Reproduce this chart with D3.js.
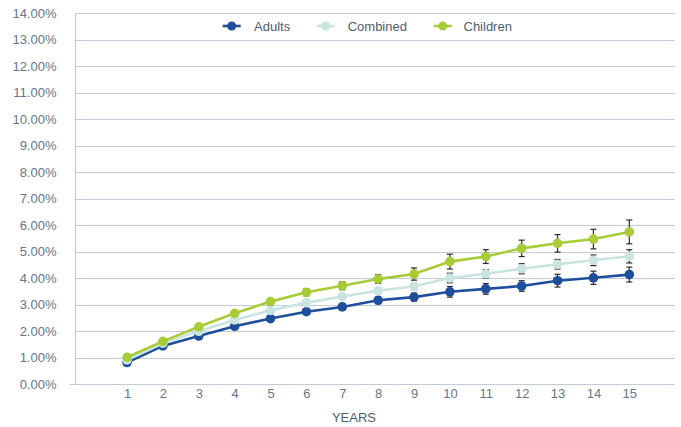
<!DOCTYPE html>
<html>
<head>
<meta charset="utf-8">
<script src="https://cdn.jsdelivr.net/npm/d3@7"></script>
<style>
  html, body { margin: 0; padding: 0; background: #ffffff; }
  svg { display: block; font-family: "Liberation Sans", Arial, Helvetica, sans-serif; }
</style>
</head>
<body>
<svg id="chart" width="681" height="427"></svg>
<script>
const years = [1,2,3,4,5,6,7,8,9,10,11,12,13,14,15];
const yTicks = [0,1,2,3,4,5,6,7,8,9,10,11,12,13,14];
const adults   = [0.82,1.45,1.82,2.19,2.48,2.74,2.92,3.17,3.29,3.49,3.60,3.71,3.91,4.02,4.14];
const combined = [0.92,1.55,2.00,2.43,2.79,3.08,3.31,3.53,3.70,4.01,4.17,4.36,4.53,4.68,4.83];
const children = [1.02,1.62,2.17,2.68,3.12,3.47,3.72,3.97,4.16,4.63,4.82,5.13,5.32,5.48,5.75];
const adultsErr   = [0.04,0.06,0.08,0.09,0.10,0.11,0.12,0.13,0.15,0.20,0.20,0.20,0.24,0.25,0.28];
const combinedErr = [0.03,0.05,0.06,0.07,0.08,0.09,0.10,0.11,0.13,0.18,0.16,0.19,0.18,0.20,0.25];
const childrenErr = [0.04,0.06,0.08,0.10,0.11,0.13,0.15,0.16,0.23,0.28,0.26,0.31,0.33,0.37,0.45];
const seriesNames = ["Adults","Combined","Children"];
const seriesColors = ["#1f4f9a","#c9e4e1","#a8cb38"];
const xTitle = "YEARS";

const series = [
  {name: seriesNames[0], color: seriesColors[0], values: adults, err: adultsErr},
  {name: seriesNames[1], color: seriesColors[1], values: combined, err: combinedErr},
  {name: seriesNames[2], color: seriesColors[2], values: children, err: childrenErr}
];

const svg = d3.select("#chart");
const plotLeft = 75.5, plotRight = 675;
const x = d3.scaleLinear().domain([1,15]).range([127, 629.3]);
const y = d3.scaleLinear().domain([0,14]).range([384.3, 13.3]);

const textColor = "#66768a";
const gridColor = "#c6c9d8";

// gridlines (baseline extends slightly left of the axis)
svg.append("g").selectAll("line").data(yTicks).join("line")
  .attr("x1", d => d === 0 ? plotLeft - 6 : plotLeft).attr("x2", plotRight)
  .attr("y1", d => Math.round(y(d)) + 0.5).attr("y2", d => Math.round(y(d)) + 0.5)
  .attr("stroke", gridColor).attr("stroke-width", 1.2);

// y-axis line
svg.append("line")
  .attr("x1", plotLeft).attr("x2", plotLeft)
  .attr("y1", y(14)).attr("y2", y(0))
  .attr("stroke", gridColor).attr("stroke-width", 1.2);

// y axis labels
const yAxis = d3.axisLeft(y).tickValues(yTicks).tickSize(0).tickPadding(0)
  .tickFormat(d => d.toFixed(2) + "%");
const gy = svg.append("g").attr("transform", "translate(56.5,0)").call(yAxis);
gy.select(".domain").remove();
gy.selectAll("text").attr("fill", textColor).style("font-size", "13px")
  .style("font-family", "'Liberation Sans', Arial, sans-serif");

// x axis labels
const xAxis = d3.axisBottom(x).tickValues(years).tickSize(0).tickPadding(0).tickFormat(d3.format("d"));
const gx = svg.append("g").attr("transform", "translate(0,389)").call(xAxis);
gx.select(".domain").remove();
gx.selectAll("text").attr("fill", textColor).style("font-size", "13px")
  .style("font-family", "'Liberation Sans', Arial, sans-serif");

// x title
svg.append("text").attr("x", 354).attr("y", 421.5).attr("text-anchor", "middle")
  .attr("fill", "#4d5d72").style("font-size", "13px").text(xTitle);

// series
const line = d3.line().x((d,i) => x(years[i])).y(d => y(d));
series.forEach(s => {
  const g = svg.append("g");
  const eb = g.append("g");
  s.values.forEach((v,i) => {
    const cx = x(years[i]);
    const top = y(v + s.err[i]), bot = y(v - s.err[i]);
    eb.append("line").attr("x1", cx).attr("x2", cx).attr("y1", top).attr("y2", bot)
      .attr("stroke", "#2a2a2a").attr("stroke-width", 1.2);
    [top, bot].forEach(yy => eb.append("line").attr("x1", cx - 3).attr("x2", cx + 3)
      .attr("y1", yy).attr("y2", yy).attr("stroke", "#2a2a2a").attr("stroke-width", 1.2));
  });
  g.append("path").datum(s.values).attr("d", line)
    .attr("fill", "none").attr("stroke", s.color).attr("stroke-width", 2.6);
  g.selectAll("circle").data(s.values).join("circle")
    .attr("cx", (d,i) => x(years[i])).attr("cy", d => y(d)).attr("r", 4.8)
    .attr("fill", s.color);
});

// legend
const legendItems = [
  {name: seriesNames[0], color: seriesColors[0], mx: 231.7, tx: 254},
  {name: seriesNames[1], color: seriesColors[1], mx: 325.7, tx: 347.7},
  {name: seriesNames[2], color: seriesColors[2], mx: 442.7, tx: 463.5}
];
const lg = svg.append("g");
legendItems.forEach(it => {
  lg.append("line").attr("x1", it.mx - 9).attr("x2", it.mx + 9).attr("y1", 26).attr("y2", 26)
    .attr("stroke", it.color).attr("stroke-width", 2.6);
  lg.append("circle").attr("cx", it.mx).attr("cy", 26).attr("r", 4.5).attr("fill", it.color);
  lg.append("text").attr("x", it.tx).attr("y", 30.5).attr("fill", "#4d5d72")
    .style("font-size", "13px").text(it.name);
});
</script>
</body>
</html>
